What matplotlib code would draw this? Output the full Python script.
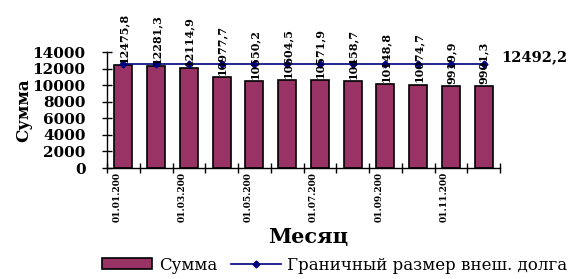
import matplotlib.pyplot as plt
import numpy as np

# Данные
meses = ["01.01.200", "01.02.200", "01.03.200", "01.04.200", "01.05.200", "01.06.200",
         "01.07.200", "01.08.200", "01.09.200", "01.10.200", "01.11.200", "01.12.200"]
summa = [12475.8, 12281.3, 12114.9, 10977.7, 10550.2, 10604.5,
         10571.9, 10458.7, 10148.8, 10074.7, 9919.9, 9901.3]
granica = [12492.2] * 12

plt.rcParams['font.family'] = ['DejaVu Serif']

fig = plt.figure(figsize=(5.83, 2.79), dpi=100)
ax = fig.add_axes([107/583, 1 - 168/279, (500-107)/583, (168-52)/279])

x = np.arange(len(meses))
bars = ax.bar(x, summa, width=0.55, color='#993366', edgecolor='black', linewidth=1.2,
              label='Сумма', zorder=2)
line, = ax.plot(x, granica, color='#000080', marker='D', markersize=3.5, linewidth=1.2,
                label='Граничный размер внеш. долга', zorder=3)

# подписи значений над столбцами
for xi, v in zip(x, summa):
    ax.text(xi, v + 250, f"{v:.1f}".replace('.', ','), rotation=90, ha='center', va='bottom',
            fontsize=8, fontweight='bold', zorder=4)

ax.text(len(meses) - 0.45, granica[-1] + 900, "12492,2", ha='left', va='center',
        fontsize=10.5, fontweight='bold')

ax.set_xlim(-0.5, len(meses) - 0.5)
ax.set_ylim(0, 14000)
ax.set_yticks(np.arange(0, 14001, 2000))
ax.set_yticklabels([f"{v:d}" for v in np.arange(0, 14001, 2000)], fontsize=11, fontweight='bold')
ax.tick_params(axis='y', direction='inout', length=7, width=1, pad=12)

ax.set_xticks(np.arange(-0.5, len(meses), 1), minor=True)
ax.set_xticks(x[::2] - 0.2)
ax.set_xticklabels(meses[::2], rotation=90, fontsize=6.5, fontweight='bold')
ax.tick_params(axis='x', which='major', length=0, pad=3)
ax.tick_params(axis='x', which='minor', direction='inout', length=7, width=1)

ax.spines['top'].set_visible(False)
ax.spines['right'].set_visible(False)
ax.spines['left'].set_linewidth(1)
ax.spines['bottom'].set_linewidth(1)

ax.set_ylabel('Сумма', fontsize=12, fontweight='bold', labelpad=0)
fig.text(308/583, 1 - 237/279, 'Месяц', ha='center', va='center', fontsize=15, fontweight='bold')

fig.legend([bars, line], ['Сумма', 'Граничный размер внеш. долга'],
           loc='center', bbox_to_anchor=(335/583, 1 - 265/279), ncol=2, frameon=False,
           fontsize=12, handlelength=3.0, handleheight=0.6, columnspacing=0.8, handletextpad=0.4)

fig.savefig('out.png', dpi=100)
